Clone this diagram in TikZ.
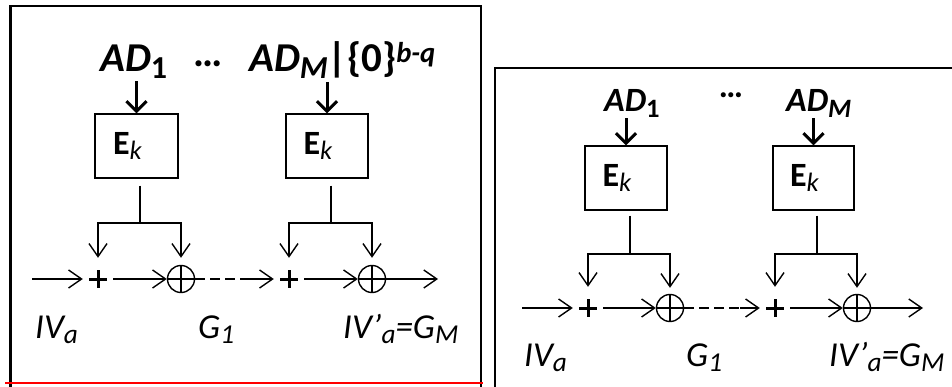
\documentclass[tikz,border=0pt]{standalone}
\usepackage{fontspec}
\setmainfont{Carlito}
\usetikzlibrary{arrows.meta}

\newcommand{\dnidx}[1]{\raisebox{-0.15em}{\scalebox{0.78}{#1}}}
\newcommand{\upidx}[1]{\raisebox{0.22em}{\scalebox{0.7}{#1}}}
\newcommand{\ektxt}{\textbf{E}\dnidx{\textit{k}}\kern18pt}

\begin{document}
\begin{tikzpicture}[x=1pt, y=-1pt,
                frame/.style={line width=2.2pt},
                redline/.style={line width=2.8pt, red},
                line/.style={line width=1.4pt},
                arr/.style={-{Straight Barb[length=13pt, width=18pt]}, line width=1.4pt},
                inarr/.style={-{Straight Barb[length=10pt, width=20pt]}, line width=3pt},
                ekbox/.style={rectangle, draw, line width=1.4pt, minimum height=64pt,
                              font=\fontsize{34}{36}\selectfont},
                plusn/.style={inner sep=0pt, minimum width=30pt, minimum height=42pt,
                              path picture={\draw[line width=3pt]
                                ([yshift=9pt]path picture bounding box.center) -- ([yshift=-9pt]path picture bounding box.center)
                                ([xshift=-9pt]path picture bounding box.center) -- ([xshift=9pt]path picture bounding box.center);}},
                xorn/.style={circle, draw, line width=1.4pt, minimum size=27pt, inner sep=0pt,
                             path picture={\draw[line width=1.4pt]
                               (path picture bounding box.north) -- (path picture bounding box.south)
                               (path picture bounding box.west) -- (path picture bounding box.east);}},
                adL/.style={inner sep=1pt, font=\fontsize{41}{44}\selectfont\bfseries},
                adR/.style={inner sep=1pt, font=\fontsize{34}{38}\selectfont\bfseries},
                lbl/.style={inner sep=0pt, anchor=base west, font=\fontsize{35}{40}\selectfont\itshape}
            ]
                \useasboundingbox (0,0) rectangle (952,387);

                % left panel
                \draw[frame] (10.5,390) |- (481,6) -- (481,390);
                \draw[redline] (5,383) -- (483,383);

                \node[adL, anchor=base west] (adL1) at (99,72) {\textit{AD}\dnidx{1}};
                \node[adL] (dotsL) at (208,64) {…};
                \node[adL, anchor=base west] (adLM) at (248,72)
                    {\textit{AD}\dnidx{\textit{M}}|\{0\}\upidx{\textit{b-q}}};

                \node[ekbox, minimum width=83pt] (ekL1) at (136.5,146) {\ektxt};
                \node[ekbox, minimum width=82pt] (ekL2) at (327,146) {\ektxt};
                \draw[inarr, shorten <=2pt] (ekL1.north |- adL1.south) -- (ekL1.north);
                \draw[inarr, shorten <=2pt] (ekL2.north |- adLM.south) -- (ekL2.north);

                \node[plusn] (pL1) at (98,279) {};
                \node[xorn] (xL1) at (181,279) {};
                \node[plusn] (pL2) at (289,279) {};
                \node[xorn] (xL2) at (372,279) {};
                \coordinate (brL1) at (140,223);
                \coordinate (brL2) at (331,223);
                \coordinate (inL) at (32,279);
                \coordinate (dL) at (250,279);
                \coordinate (outL) at (438,279);

                \draw[line, shorten <=7pt] (ekL1.south -| brL1) -- (brL1);
                \draw[line, shorten <=7pt] (ekL2.south -| brL2) -- (brL2);
                \draw[arr] (brL1) -| (pL1);
                \draw[arr, shorten >=7pt] (brL1) -| (xL1);
                \draw[arr] (brL2) -| (pL2);
                \draw[arr, shorten >=7pt] (brL2) -| (xL2);

                \draw[arr] (inL) -- (pL1);
                \draw[arr] (pL1) -- (xL1);
                \draw[line, dash pattern=on 10pt off 5pt] (xL1) -- (dL);
                \draw[arr] (dL) -- (pL2);
                \draw[arr] (pL2) -- (xL2);
                \draw[arr] (xL2) -- (outL);

                \node[lbl] (ivL) at (35,338) {IV\dnidx{a}};
                \node[lbl] (gL1) at (198,338) {G\dnidx{1}};
                \node[lbl] (gLM) at (343,338) {IV’\dnidx{a}=G\dnidx{M}};

                % right panel
                \draw[frame] (495,390) |- (960,68);

                \node[adR, anchor=base west] (adR1) at (603,112) {\textit{AD}\dnidx{1}};
                \node[adR] (dotsR) at (731,95) {…};
                \node[adR, anchor=base west] (adRM) at (785,112) {\textit{AD}\dnidx{\textit{M}}};

                \node[ekbox, minimum width=82pt] (ekR1) at (626,178) {\ektxt};
                \node[ekbox, minimum width=81pt] (ekR2) at (813.5,178) {\ektxt};
                \draw[inarr] (ekR1.north |- adR1.south) -- (ekR1.north);
                \draw[inarr] (ekR2.north |- adRM.south) -- (ekR2.north);

                \node[plusn] (pR1) at (588,308) {};
                \node[xorn] (xR1) at (670,308) {};
                \node[plusn] (pR2) at (775,308) {};
                \node[xorn] (xR2) at (857,308) {};
                \coordinate (brR1) at (630,254);
                \coordinate (brR2) at (817,254);
                \coordinate (inR) at (522,308);
                \coordinate (dR) at (740,308);
                \coordinate (outR) at (923,308);

                \draw[line, shorten <=5pt] (ekR1.south -| brR1) -- (brR1);
                \draw[line, shorten <=5pt] (ekR2.south -| brR2) -- (brR2);
                \draw[arr] (brR1) -| (pR1);
                \draw[arr, shorten >=6pt] (brR1) -| (xR1);
                \draw[arr] (brR2) -| (pR2);
                \draw[arr, shorten >=6pt] (brR2) -| (xR2);

                \draw[arr] (inR) -- (pR1);
                \draw[arr] (pR1) -- (xR1);
                \draw[line, dash pattern=on 10pt off 5pt] (xR1) -- (dR);
                \draw[arr] (dR) -- (pR2);
                \draw[arr] (pR2) -- (xR2);
                \draw[arr] (xR2) -- (outR);

                \node[lbl] (ivR) at (524,366) {IV\dnidx{a}};
                \node[lbl] (gR1) at (686,366) {G\dnidx{1}};
                \node[lbl] (gRM) at (829,366) {IV’\dnidx{a}=G\dnidx{M}};
            \end{tikzpicture}
\end{document}
